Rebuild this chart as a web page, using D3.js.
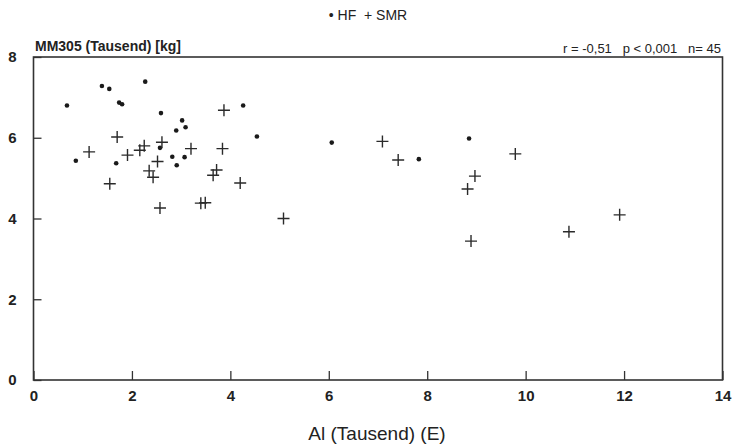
<!DOCTYPE html>
<html>
<head>
<meta charset="utf-8">
<script src="https://cdn.jsdelivr.net/npm/d3@7"></script>
<style>
  html, body { margin: 0; padding: 0; background: #fff; }
  svg text { font-family: "Liberation Sans Narrow", "Liberation Sans", Arial, sans-serif; fill: #222; }
</style>
</head>
<body>
<div id="container"></div>
<script>
// HF (dots): [Al in thousand, MM305 in thousand kg]
const hfX = [0.68, 1.39, 1.54, 2.27, 1.74, 1.80, 2.59, 4.26, 3.02, 3.09, 2.90, 4.54, 0.86, 1.68, 2.57, 2.82, 3.07, 2.91, 6.06, 7.83, 8.85];
const hfY = [6.80, 7.28, 7.21, 7.39, 6.87, 6.83, 6.61, 6.80, 6.43, 6.26, 6.18, 6.03, 5.43, 5.37, 5.75, 5.53, 5.52, 5.32, 5.88, 5.47, 5.98];

// SMR (crosses)
const smrX = [3.87, 1.70, 2.61, 1.13, 1.91, 2.16, 2.25, 3.20, 3.84, 2.52, 2.35, 2.43, 3.72, 3.65, 1.55, 4.20, 2.57, 3.40, 3.49,
  7.09, 7.41, 8.97, 8.82, 5.08, 9.79, 8.89, 10.88, 11.91];
const smrY = [6.68, 6.02, 5.89, 5.65, 5.57, 5.69, 5.80, 5.73, 5.73, 5.41, 5.18, 5.02, 5.20, 5.07, 4.86, 4.88, 4.26, 4.38, 4.39,
  5.91, 5.45, 5.05, 4.73, 4.00, 5.60, 3.44, 3.67, 4.09];

const xTicks = [0, 2, 4, 6, 8, 10, 12, 14];
const yTicks = [0, 2, 4, 6, 8];

const W = 733, H = 445;
const svg = d3.select("#container").append("svg")
  .attr("width", W)
  .attr("height", H);

const x = d3.scaleLinear().domain([0, 14]).range([33.5, 722.5]);
const y = d3.scaleLinear().domain([0, 8]).range([380, 57]);

// x axis (ticks pointing inward)
const xAxis = svg.append("g")
  .attr("transform", `translate(0,${y(0)})`)
  .call(d3.axisBottom(x).tickValues(xTicks).tickSize(-9).tickPadding(10));
xAxis.select(".domain").remove();
xAxis.selectAll(".tick line").attr("stroke", "#333").attr("stroke-width", 1.3);
xAxis.selectAll(".tick text")
  .style("font-size", "15px")
  .style("font-weight", "bold");

// y axis
const yAxis = svg.append("g")
  .attr("transform", `translate(${x(0)},0)`)
  .call(d3.axisLeft(y).tickValues(yTicks).tickSize(-8).tickPadding(17));
yAxis.select(".domain").remove();
yAxis.selectAll(".tick line").attr("stroke", "#333").attr("stroke-width", 1.3);
yAxis.selectAll(".tick text")
  .style("font-size", "15px")
  .style("font-weight", "bold");

// frame
svg.append("rect")
  .attr("x", x(0))
  .attr("y", y(8))
  .attr("width", x(14) - x(0))
  .attr("height", y(0) - y(8))
  .attr("fill", "none")
  .attr("stroke", "#333")
  .attr("stroke-width", 1.6);

// HF dots
svg.append("g").selectAll("circle")
  .data(hfX.map((v, i) => [v, hfY[i]]))
  .join("circle")
  .attr("cx", d => x(d[0]))
  .attr("cy", d => y(d[1]))
  .attr("r", 2.3)
  .attr("fill", "#1a1a1a");

// SMR crosses
const cs = 6;
svg.append("g").selectAll("path")
  .data(smrX.map((v, i) => [v, smrY[i]]))
  .join("path")
  .attr("d", d => {
    const cx = x(d[0]), cy = y(d[1]);
    return `M${cx - cs},${cy}H${cx + cs}M${cx},${cy - cs}V${cy + cs}`;
  })
  .attr("stroke", "#2a2a2a")
  .attr("stroke-width", 1.4)
  .attr("fill", "none");

// legend
svg.append("text")
  .attr("x", 368)
  .attr("y", 20)
  .attr("text-anchor", "middle")
  .style("font-size", "14px")
  .text("\u2022 HF  + SMR")
  .attr("xml:space", "preserve");

// y title
svg.append("text")
  .attr("x", 35)
  .attr("y", 51)
  .style("font-size", "14px")
  .style("font-weight", "bold")
  .text("MM305 (Tausend) [kg]");

// stats
svg.append("text")
  .attr("x", 721)
  .attr("y", 53)
  .attr("text-anchor", "end")
  .attr("xml:space", "preserve")
  .style("font-size", "13px")
  .text("r = -0,51   p < 0,001   n= 45");

// x title
svg.append("text")
  .attr("x", 377)
  .attr("y", 440)
  .attr("text-anchor", "middle")
  .style("font-size", "19px")
  .text("Al (Tausend) (E)");
</script>
</body>
</html>
